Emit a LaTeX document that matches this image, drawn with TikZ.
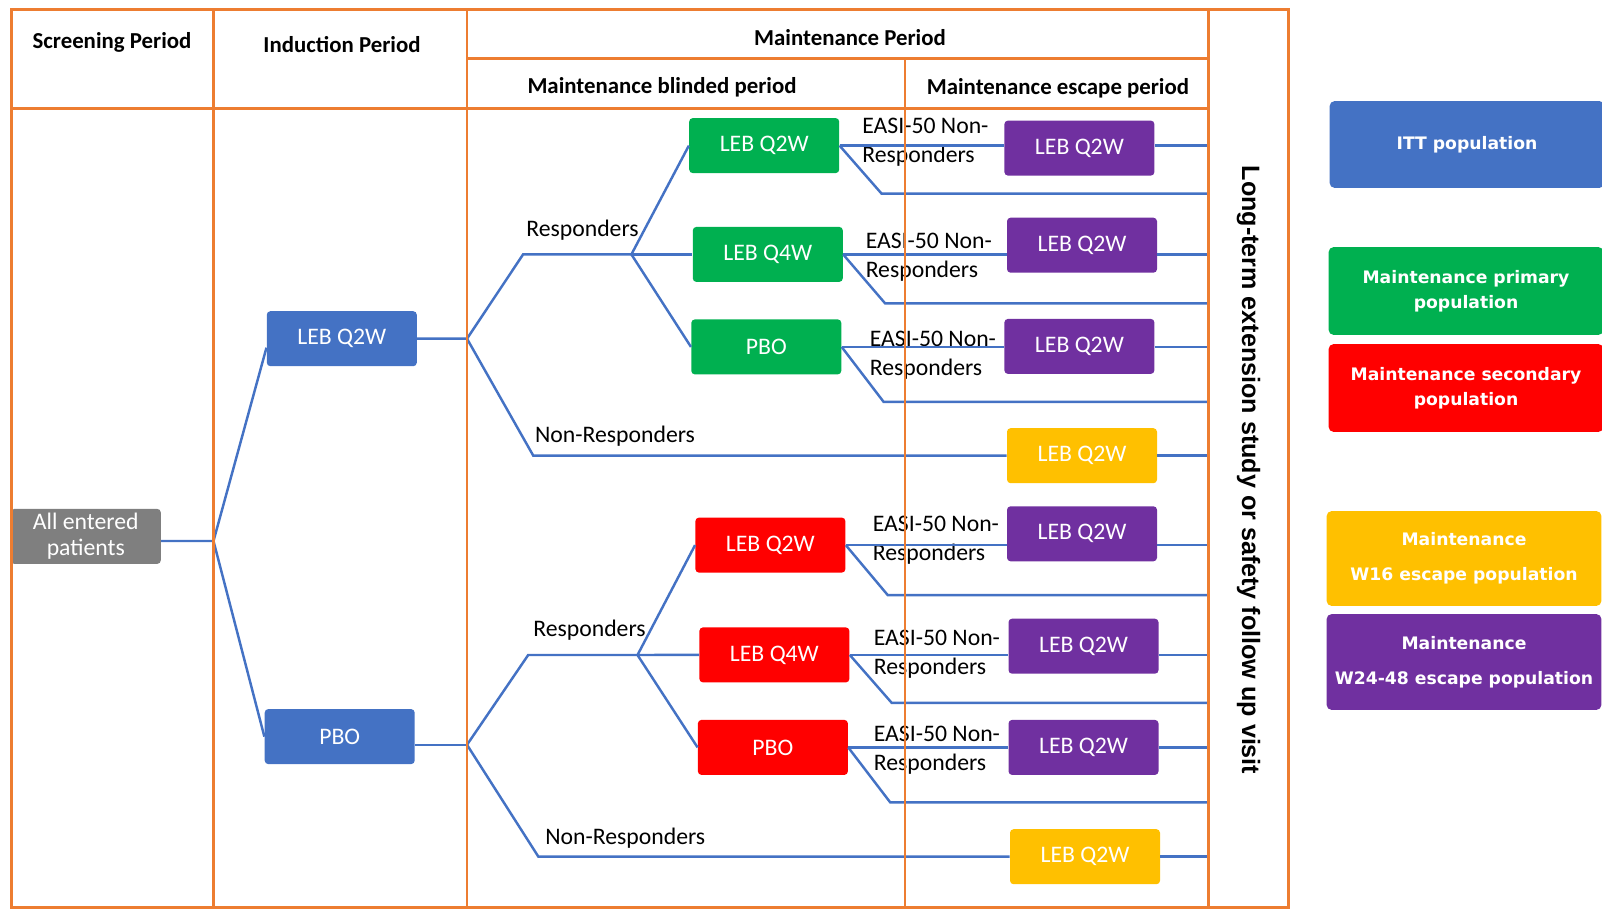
\documentclass[tikz,border=0pt]{standalone}
\usepackage{fontspec}
\setmainfont{Carlito}
\newfontfamily\legendfont{DejaVu Sans}
\newfontfamily\sidefont{Liberation Sans}
\usepackage{xcolor}
\usepackage{tikz}
\usetikzlibrary{positioning}
\definecolor{frame}{HTML}{ED7D31}
\definecolor{ittblue}{HTML}{4472C4}
\definecolor{primgreen}{HTML}{00B050}
\definecolor{secred}{HTML}{FF0000}
\definecolor{escpurple}{HTML}{7030A0}
\definecolor{escyellow}{HTML}{FFC000}
\definecolor{allgrey}{HTML}{7F7F7F}
\tikzstyle{arm}=[rectangle,rounded corners=2pt,minimum width=3cm,minimum height=1.1cm,align=center,text=white,inner sep=1pt,font=\fontsize{13.5}{14.5}\selectfont]
\tikzstyle{legend}=[rectangle,rounded corners=3pt,minimum width=5.5cm,align=center,text=white,font=\legendfont\bfseries\fontsize{9.8}{14.5}\selectfont]
\tikzstyle{head}=[font=\bfseries\fontsize{13}{15}\selectfont]
\tikzstyle{lbl}=[inner sep=0pt,font=\fontsize{13.5}{16.3}\selectfont]
\tikzstyle{conn}=[draw,line width=1.4pt,ittblue]
\tikzstyle{grid}=[draw,line width=1.6pt,frame]

\begin{document}
\begin{tikzpicture}[x=0.02cm,y=-0.02cm]
\useasboundingbox (0,0) rectangle (1602,909);

	% period headers
	\node[head] (hscr) at (112,42) {Screening Period};
	\node[head] (hind) at (342,45) {Induction Period};
	\node[head] (hmnt) at (850,38) {Maintenance Period};
	\node[head] (hbld) at (662,87) {Maintenance blinded period};
	\node[head] (hesc) at (1058,88) {Maintenance escape period};
	\node[rotate=-90,font=\sidefont\bfseries\fontsize{14.3}{16}\selectfont] (lte) at (1248.5,470)
	{Long-term extension study or safety follow up visit};

	% arms
	\node[arm,fill=allgrey] (all) at (85.8,536.4) {All entered\\patients};
	\node[arm,fill=ittblue] (indq2w) at (341.8,338.7) {LEB Q2W};
	\node[arm,fill=ittblue] (indpbo) at (339.7,736.6) {PBO};

	\node[arm,fill=primgreen] (g1) at (764.2,145.6) {LEB Q2W};
	\node[arm,fill=primgreen] (g2) at (767.8,254.4) {LEB Q4W};
	\node[arm,fill=primgreen] (g3) at (766.3,346.9) {PBO};
	\node[arm,fill=secred] (r1) at (770.4,545.1) {LEB Q2W};
	\node[arm,fill=secred] (r2) at (774.4,654.9) {LEB Q4W};
	\node[arm,fill=secred] (r3) at (772.9,747.4) {PBO};

	\node[arm,fill=escpurple] (p1) at (1079.4,148.1) {LEB Q2W};
	\node[arm,fill=escpurple] (p2) at (1082,245.2) {LEB Q2W};
	\node[arm,fill=escpurple] (p3) at (1079.4,346.4) {LEB Q2W};
	\node[arm,fill=escyellow] (y1) at (1082,455.7) {LEB Q2W};
	\node[arm,fill=escpurple] (p4) at (1082,533.8) {LEB Q2W};
	\node[arm,fill=escpurple] (p5) at (1083.5,646.2) {LEB Q2W};
	\node[arm,fill=escpurple] (p6) at (1083.5,747.4) {LEB Q2W};
	\node[arm,fill=escyellow] (y2) at (1085,856.7) {LEB Q2W};

	% legend
	\node[legend,fill=ittblue,minimum height=1.74cm] (litt) at (1467,144.5) {ITT population};
	\node[legend,fill=primgreen,minimum height=1.76cm] (lprim) at (1466,291) {Maintenance primary\\population};
	\node[legend,fill=secred,minimum height=1.76cm] (lsec) at (1466,388) {Maintenance secondary\\population};
	\node[legend,fill=escyellow,minimum height=1.9cm,font=\legendfont\bfseries\fontsize{9.8}{20}\selectfont] (lw16) at (1464,558.5) {Maintenance\\W16 escape population};
	\node[legend,fill=escpurple,minimum height=1.92cm,font=\legendfont\bfseries\fontsize{9.8}{20}\selectfont] (lw24) at (1464,662) {Maintenance\\W24-48 escape population};

	% labels
	\node[lbl] (resp1) at (582.5,230) {Responders};
	\node[lbl] (nonr1) at (615,436) {Non-Responders};
	\node[lbl] (resp2) at (589.5,630.4) {Responders};
	\node[lbl] (nonr2) at (625.3,838) {Non-Responders};
	\node[lbl,align=left,anchor=west] (easi1) at (862,142) {EASI-50 Non-\\Responders};
	\node[lbl,align=left,anchor=west] (easi2) at (865.4,257) {EASI-50 Non-\\Responders};
	\node[lbl,align=left,anchor=west] (easi3) at (869.5,355.5) {EASI-50 Non-\\Responders};
	\node[lbl,align=left,anchor=west] (easi4) at (872.5,540.5) {EASI-50 Non-\\Responders};
	\node[lbl,align=left,anchor=west] (easi5) at (873.5,654) {EASI-50 Non-\\Responders};
	\node[lbl,align=left,anchor=west] (easi6) at (873.5,750) {EASI-50 Non-\\Responders};

	% branch points
	\coordinate (rim) at (1208.6,0);
	\coordinate (j0) at (213.5,541);
	\coordinate (jq) at (467,338.7);
	\coordinate (jp) at (467,744.8);
	\coordinate (rqk) at (523.1,254.4);
	\coordinate (rq) at (631.4,254.4);
	\coordinate (nqk) at (533.3,455.7);
	\coordinate (rpk) at (528.2,655);
	\coordinate (rp) at (637.5,655);
	\coordinate (npk) at (538.4,856.7);

	\path[conn] (all.east |- j0) -- (j0) -- ([yshift=-0.18cm]indq2w.west);
	\path[conn] (j0) -- (indpbo.west);

	\path[conn] (indq2w.east) -- (jq) -- (rqk) -- (rq);
	\path[conn] (jq) -- (nqk) -- (y1.west);
	\path[conn] (rq) -- (g1.west);
	\path[conn] (rq) -- (g2.west);
	\path[conn] (rq) -- (g3.west);

	\path[conn] (indpbo.east |- jp) -- (jp);
	\path[conn] (jp) -- (rpk) -- (rp);
	\path[conn] (jp) -- (npk) -- (y2.west);
	\path[conn] (rp) -- (r1.west);
	\path[conn] (rp) -- (r2.west);
	\path[conn] (rp) -- (r3.west);

	\path[conn] (g1.east) -- (g1.east -| p1.west);
	\path[conn] (g1.east -| p1.east) -- (g1.east -| rim);
	\path[conn] (g1.east) -- ++(42,48) coordinate (g1k) -- (g1k -| rim);
	\path[conn] (g2.east) -- (g2.east -| p2.west);
	\path[conn] (g2.east -| p2.east) -- (g2.east -| rim);
	\path[conn] (g2.east) -- ++(42,49) coordinate (g2k) -- (g2k -| rim);
	\path[conn] (g3.east) -- (g3.east -| p3.west);
	\path[conn] (g3.east -| p3.east) -- (g3.east -| rim);
	\path[conn] (g3.east) -- ++(42,55) coordinate (g3k) -- (g3k -| rim);
	\path[conn] (y1.east) -- (y1.east -| rim);

	\path[conn] (r1.east) -- (r1.east -| p4.west);
	\path[conn] (r1.east -| p4.east) -- (r1.east -| rim);
	\path[conn] (r1.east) -- ++(42,50) coordinate (r1k) -- (r1k -| rim);
	\path[conn] (r2.east) -- (r2.east -| p5.west);
	\path[conn] (r2.east -| p5.east) -- (r2.east -| rim);
	\path[conn] (r2.east) -- ++(42,48) coordinate (r2k) -- (r2k -| rim);
	\path[conn] (r3.east) -- (r3.east -| p6.west);
	\path[conn] (r3.east -| p6.east) -- (r3.east -| rim);
	\path[conn] (r3.east) -- ++(42,55) coordinate (r3k) -- (r3k -| rim);
	\path[conn] (y2.east) -- (y2.east -| rim);

	% period frame
	\path[grid] (11.2,9.2) rectangle (1288.4,907.3);
	\path[grid] (213.5,9.2) -- (213.5,907.3);
	\path[grid] (467,9.2) -- (467,907.3);
	\path[grid] (1208.6,9.2) -- (1208.6,907.3);
	\path[grid] (905,58.2) -- (905,907.3);
	\path[grid] (467,58.2) -- (1208.6,58.2);
	\path[grid] (11.2,108.3) -- (1208.6,108.3);
\end{tikzpicture}
\end{document}
